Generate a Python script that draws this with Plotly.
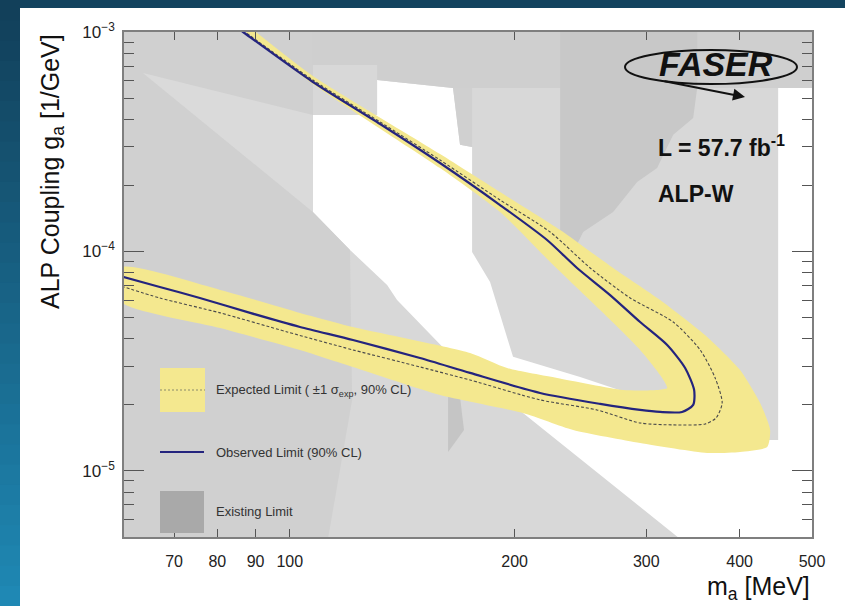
import math
import plotly.graph_objects as go

# ---------------- data (mass in MeV, coupling in 1/GeV) ----------------
# observed 90% CL limit: upper branch from the top, round the tip, lower branch to the left
obs_mass = [85.0, 86.6, 107.4, 132.1, 158.9, 191.2, 221.0, 242.4, 268.4, 294.4, 320.0,
            338.2, 347.7, 346.7, 335.0, 313.1, 294.4, 260.3, 216.3, 174.3, 149.4,
            121.5, 103.2, 88.5, 75.8, 67.0, 59.5]
obs_coupling = [1.047e-3, 1.0e-3, 5.92e-4, 3.81e-4, 2.53e-4, 1.628e-4, 1.128e-4, 8.41e-5,
                6.33e-5, 4.77e-5, 3.75e-5, 2.945e-5, 2.339e-5, 2.0e-5, 1.857e-5, 1.857e-5,
                1.896e-5, 2.02e-5, 2.266e-5, 2.796e-5, 3.27e-5, 3.95e-5, 4.53e-5, 5.25e-5,
                6.14e-5, 6.89e-5, 7.7e-5]

# expected 90% CL limit
exp_mass = [85.5, 87.1, 107.4, 132.1, 158.9, 191.2, 223.1, 252.4, 285.5, 326.0, 354.2,
            371.0, 379.1, 372.1, 359.7, 326.0, 294.4, 257.8, 216.3, 174.3, 149.4,
            121.5, 99.2, 80.7, 67.0, 59.5]
exp_coupling = [1.047e-3, 1.0e-3, 6.04e-4, 3.89e-4, 2.61e-4, 1.716e-4, 1.227e-4, 8.41e-5,
                6.14e-5, 4.77e-5, 3.56e-5, 2.652e-5, 2.041e-5, 1.744e-5, 1.637e-5, 1.621e-5,
                1.654e-5, 1.896e-5, 2.107e-5, 2.597e-5, 2.977e-5, 3.56e-5, 4.30e-5, 5.25e-5,
                6.14e-5, 6.95e-5]

# +/-1 sigma band of the expected limit: outer edge, then inner edge
band_outer_mass = [88.5, 107.4, 158.9, 191.2, 230.1, 270.9, 313.1, 362.0, 400.6, 426.1,
                   439.5, 435.5, 400.6, 362.0, 294.4, 239.5, 205.2, 158.9, 121.5, 103.2,
                   80.7, 59.5]
band_outer_coupling = [1.05e-3, 6.30e-4, 2.78e-4, 1.866e-4, 1.253e-4, 8.41e-5, 6.01e-5,
                       4.08e-5, 2.884e-5, 2.041e-5, 1.537e-5, 1.286e-5, 1.221e-5, 1.208e-5,
                       1.341e-5, 1.537e-5, 1.837e-5, 2.219e-5, 2.977e-5, 3.56e-5, 4.48e-5,
                       5.9e-5]
band_inner_mass = [59.5, 80.7, 103.2, 121.5, 174.3, 195.4, 228.0, 279.4, 310.2, 320.0,
                   313.1, 294.4, 260.3, 223.1, 191.2, 158.9, 107.4, 85.8]
band_inner_coupling = [8.45e-5, 6.68e-5, 5.25e-5, 4.53e-5, 3.45e-5, 2.945e-5, 2.652e-5,
                       2.339e-5, 2.339e-5, 2.389e-5, 2.737e-5, 3.56e-5, 5.41e-5, 8.96e-5,
                       1.514e-4, 2.40e-4, 5.80e-4, 1.05e-3]

# regions of parameter space (existing constraints and the unconstrained gap)
full_mass = [59.0, 510.0, 510.0, 59.0]
full_coupling = [4.8e-6, 4.8e-6, 1.06e-3, 1.06e-3]

open_mass = [107.4, 130.9, 130.9, 165.4, 169.0, 175.4, 175.4, 185.4, 199.0, 244.7, 281.1,
             354.2, 354.2, 450.5, 450.5, 505.0, 505.0, 333.0, 205.2, 163.9, 139.2, 135.0,
             120.4, 107.4]
open_coupling = [4.19e-4, 4.19e-4, 6.04e-4, 5.56e-4, 3.06e-4, 2.99e-4, 9.95e-5, 7.26e-5,
                 3.31e-5, 2.68e-5, 2.29e-5, 1.707e-5, 1.384e-5, 1.384e-5, 5.56e-4, 5.56e-4,
                 4.9e-6, 4.9e-6, 1.837e-5, 3.38e-5, 6.01e-5, 7.04e-5, 1.016e-4, 1.514e-4]

left_mass = [59.5, 107.4, 107.4, 120.4, 121.2, 112.5, 59.5]
left_coupling = [1.05e-3, 1.05e-3, 1.514e-4, 1.016e-4, 2.107e-5, 4.9e-6, 4.9e-6]

wedge_mass = [63.6, 107.4, 107.4]
wedge_coupling = [6.50e-4, 4.19e-4, 1.514e-4]

top_mass = [107.4, 505.0, 505.0, 165.4, 130.9, 130.9, 107.4]
top_coupling = [1.05e-3, 1.05e-3, 5.56e-4, 5.56e-4, 6.04e-4, 7.07e-4, 7.07e-4]

column_mass = [165.4, 175.4, 175.4, 169.0]
column_coupling = [5.56e-4, 5.56e-4, 2.99e-4, 3.06e-4]

funnel_mass = [230.1, 351.0, 351.0, 346.7, 326.0, 310.2, 291.7, 270.9, 247.0, 239.5,
               232.2, 230.1]
funnel_coupling = [1.05e-3, 1.05e-3, 5.56e-4, 4.06e-4, 3.40e-4, 2.40e-4, 2.073e-4,
                   1.514e-4, 1.227e-4, 9.95e-5, 9.64e-5, 9.64e-5]

sliver_mass = [162.9, 169.0, 171.1, 162.9]
sliver_coupling = [2.17e-5, 2.17e-5, 1.537e-5, 1.221e-5]

mass_ticks = [70, 80, 90, 100, 200, 300, 400, 500]
coupling_major = [1e-5, 1e-4, 1e-3]
coupling_labels = ["10<sup>\u22125</sup>", "10<sup>\u22124</sup>", "10<sup>\u22123</sup>"]
coupling_minor = [m * 10.0 ** e for e in (-6, -5, -4) for m in range(2, 10)
                  if 5e-6 <= m * 10.0 ** e < 1e-3]

# ---------------- styling ----------------
FONT = "Liberation Sans, Arial, Helvetica, sans-serif"
BAND = "#f4e88f"
OBS = "#24247e"
EXPC = "#4a4a4a"

fig = go.Figure()


def region(xs, ys, color, shape="linear"):
    fig.add_trace(go.Scatter(x=xs, y=ys, fill="toself", fillcolor=color, mode="lines",
                             line=dict(width=0, color=color, shape=shape, smoothing=0.6),
                             hoverinfo="skip", showlegend=False))


region(full_mass, full_coupling, "#d8d8d8")
region(open_mass, open_coupling, "#ffffff")
region(left_mass, left_coupling, "#d0d0d0")
region(wedge_mass, wedge_coupling, "#dadada")
region(top_mass, top_coupling, "#cfcfcf")
region(column_mass, column_coupling, "#d0d0d0")
region(funnel_mass, funnel_coupling, "#c8c8c8")
region(sliver_mass, sliver_coupling, "#c5c5c5")

region(band_outer_mass + band_inner_mass, band_outer_coupling + band_inner_coupling, BAND,
       shape="spline")

fig.add_trace(go.Scatter(x=exp_mass, y=exp_coupling, mode="lines",
                         line=dict(color=EXPC, width=1.1, dash="3px,2px", shape="spline",
                                   smoothing=0.7),
                         hoverinfo="skip", showlegend=False))
fig.add_trace(go.Scatter(x=obs_mass, y=obs_coupling, mode="lines",
                         line=dict(color=OBS, width=2.2, shape="spline", smoothing=0.7),
                         hoverinfo="skip", showlegend=False))

# ---------------- layout helpers (pixel -> paper) ----------------
W, H = 845, 606
L, R, T, B = 124, 812, 32, 537


def px(xp):
    return (xp - L) / (R - L)


def py(yp):
    return (B - yp) / (B - T)


shapes = []
# blue frame round the white sheet: top strip and a shaded left strip
shapes.append(dict(type="rect", xref="paper", yref="paper", x0=px(-2), x1=px(W + 2),
                   y0=py(8), y1=py(-2), fillcolor="#13445f", line_width=0, layer="below"))
n = 30
for i in range(n):
    t = i / (n - 1)
    r = int(0x12 + (0x1f - 0x12) * t)
    g = int(0x40 + (0x88 - 0x40) * t)
    b = int(0x5a + (0xb4 - 0x5a) * t)
    shapes.append(dict(type="rect", xref="paper", yref="paper", x0=px(-2), x1=px(20),
                       y0=py(H * (i + 1) / n + 1), y1=py(H * i / n),
                       fillcolor=f"rgb({r},{g},{b})", line_width=0, layer="below"))

# legend swatches
shapes.append(dict(type="rect", xref="paper", yref="paper", x0=px(160), x1=px(205),
                   y0=py(412), y1=py(368), fillcolor=BAND, line_width=0))
shapes.append(dict(type="line", xref="paper", yref="paper", x0=px(160), x1=px(205),
                   y0=py(390), y1=py(390), line=dict(color="#8a8a6a", width=1, dash="2px,2px")))
shapes.append(dict(type="line", xref="paper", yref="paper", x0=px(160), x1=px(204),
                   y0=py(452), y1=py(452), line=dict(color=OBS, width=2)))
shapes.append(dict(type="rect", xref="paper", yref="paper", x0=px(160), x1=px(204),
                   y0=py(533), y1=py(491), fillcolor="#a9a9a9", line_width=0))

# experiment logo ring
shapes.append(dict(type="circle", xref="paper", yref="paper", x0=px(625), x1=px(797),
                   y0=py(84), y1=py(50), line=dict(color="#111111", width=2)))

annotations = [
    dict(text="Expected Limit ( \u00b11 \u03c3<sub>exp</sub>, 90% CL)", x=px(214), y=py(390),
         xanchor="left", yanchor="middle", showarrow=False,
         font=dict(family=FONT, size=13, color="#333333")),
    dict(text="Observed Limit (90% CL)", x=px(214), y=py(452), xanchor="left",
         yanchor="middle", showarrow=False, font=dict(family=FONT, size=13, color="#333333")),
    dict(text="Existing Limit", x=px(214), y=py(511), xanchor="left", yanchor="middle",
         showarrow=False, font=dict(family=FONT, size=13, color="#333333")),
    dict(text="<b><i>FASER</i></b>", x=px(716), y=py(64), xanchor="center", yanchor="middle",
         showarrow=False, font=dict(family=FONT, size=34, color="#111111")),
    dict(text="", x=px(745), y=py(97), ax=-82, ay=-16, xref="paper", yref="paper",
         showarrow=True, arrowhead=2, arrowsize=1.2, arrowwidth=2, arrowcolor="#111111"),
    dict(text="<b>L = 57.7 fb<sup>-1</sup></b>", x=px(656), y=py(146), xanchor="left",
         yanchor="middle", showarrow=False, font=dict(family=FONT, size=23, color="#111111")),
    dict(text="<b>ALP-W</b>", x=px(656), y=py(194), xanchor="left", yanchor="middle",
         showarrow=False, font=dict(family=FONT, size=23, color="#111111")),
    dict(text="ALP Coupling g<sub>a</sub> [1/GeV]", x=px(52), y=py(172), textangle=-90,
         xanchor="center", yanchor="middle", showarrow=False,
         font=dict(family=FONT, size=25, color="#111111")),
    dict(text="m<sub>a</sub> [MeV]", x=1.0, y=py(588), xanchor="right", yanchor="middle",
         showarrow=False, font=dict(family=FONT, size=25, color="#111111")),
]
for a in annotations:
    a.setdefault("xref", "paper")
    a.setdefault("yref", "paper")

fig.update_layout(
    width=W, height=H, autosize=False,
    margin=dict(l=L, r=W - R, t=T, b=H - B, pad=0),
    paper_bgcolor="#ffffff", plot_bgcolor="#d8d8d8",
    shapes=shapes, annotations=annotations, showlegend=False,
    font=dict(family=FONT, color="#222222"),
)
fig.update_xaxes(
    type="log", range=[math.log10(60), math.log10(500) + 1e-5],
    tickmode="array", tickvals=mass_ticks, ticktext=[str(v) for v in mass_ticks],
    ticks="inside", ticklen=8, tickwidth=1.2, tickcolor="#555555",
    showline=True, linecolor="#7f7f7f", linewidth=1.5, mirror="ticks",
    showgrid=False, zeroline=False, ticklabelstandoff=9,
    tickfont=dict(family=FONT, size=16, color="#222222"),
)
fig.update_yaxes(
    type="log", range=[math.log10(5e-6), -3 + 1e-5],
    tickmode="array", tickvals=coupling_major, ticktext=coupling_labels,
    ticks="inside", ticklen=20, tickwidth=1.2, tickcolor="#555555",
    minor=dict(tickmode="array", tickvals=coupling_minor, ticks="inside", ticklen=10,
               tickwidth=1.2, tickcolor="#555555", showgrid=False),
    showline=True, linecolor="#7f7f7f", linewidth=1.5, mirror="ticks",
    showgrid=False, zeroline=False, ticklabelstandoff=4,
    tickfont=dict(family=FONT, size=17, color="#222222"),
)

fig.write_html("out.html")
